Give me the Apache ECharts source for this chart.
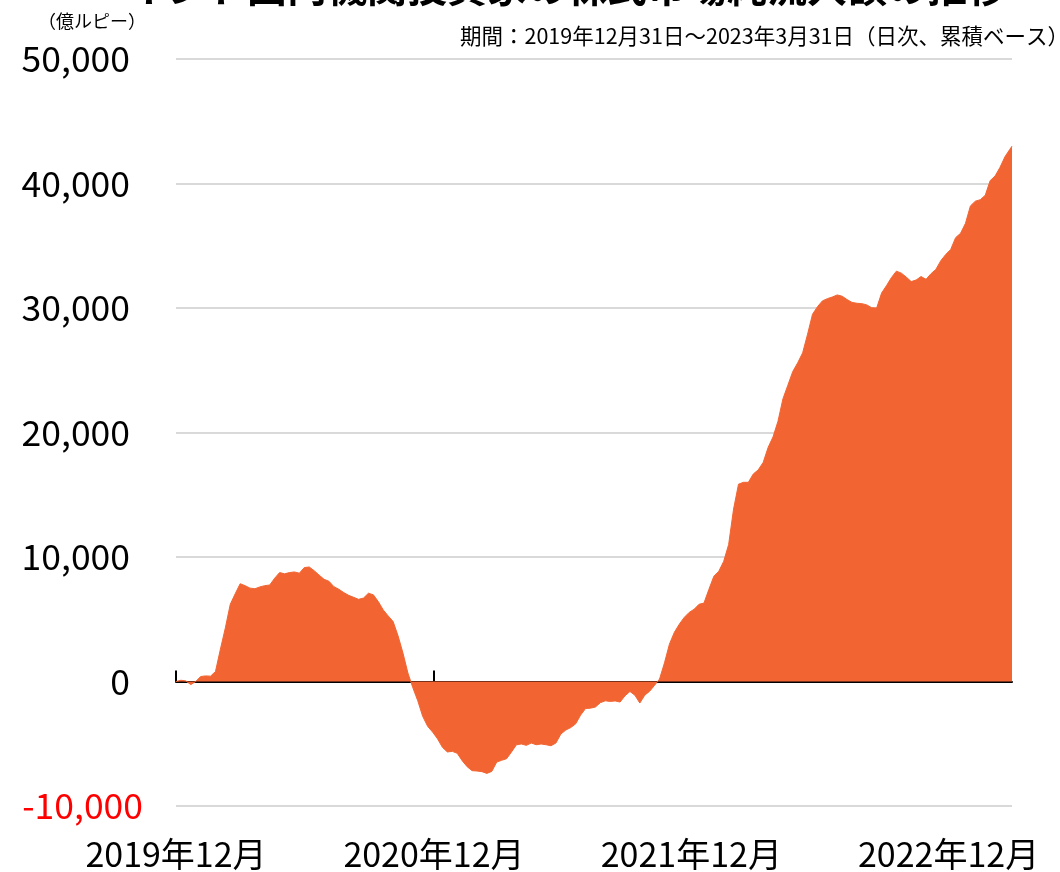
<!DOCTYPE html>
<html>
<head>
<meta charset="utf-8">
<script src="https://cdn.jsdelivr.net/npm/echarts@6/dist/echarts.min.js"></script>
<style>
html,body{margin:0;padding:0;background:#fff;}
#chart{width:1060px;height:872px;}
</style>
</head>
<body>
<div id="chart"></div>
<script>
// Weekly samples from 2019-12-31 (day 0) every 7 days, final point on 2023-03-31 (day 1186)
const startDate = '2019-12-31';
const endDay = 1186;
const stepDays = 7;
const flowValues = [
  0, 100, 50, -250, 0, 400, 450, 430, 800, 2600,
  4300, 6200, 7050, 7850, 7700, 7500, 7450, 7600, 7700, 7750,
  8300, 8750, 8650, 8750, 8800, 8700, 9150, 9200, 8900, 8550,
  8210, 8050, 7620, 7410, 7140, 6920, 6760, 6600, 6700, 7090,
  6960, 6420, 5750, 5270, 4820, 3670, 2280, 680, -500, -1550,
  -2800, -3600, -4060, -4600, -5290, -5660, -5610, -5770, -6360, -6840,
  -7160, -7190, -7240, -7380, -7220, -6470, -6330, -6200, -5660, -5080,
  -5020, -5130, -4940, -5080, -5020, -5080, -5160, -4940, -4220, -3900,
  -3700, -3400, -2700, -2170, -2140, -2050, -1700, -1550, -1600, -1560,
  -1650, -1150, -800, -1100, -1730, -1100, -780, -300, 200, 1500,
  3000, 3950, 4600, 5150, 5550, 5800, 6200, 6300, 7400, 8450,
  8850, 9650, 11000, 13850, 15850, 16000, 16000, 16670, 17000, 17600,
  18800, 19650, 20900, 22700, 23800, 24900, 25600, 26400, 27900, 29500,
  30100, 30570, 30750, 30880, 31050, 30950, 30680, 30450, 30380, 30350,
  30250, 30020, 30000, 31200, 31800, 32450, 32960, 32800, 32480, 32120,
  32250, 32530, 32300, 32750, 33100, 33800, 34300, 34700, 35650, 36000,
  36800, 38200, 38580, 38700, 39050, 40230, 40600, 41300, 42150, 42750,
  43000
];
const tickDays = [0, 366, 731, 1096];
const tickLabels = ['2019年12月', '2020年12月', '2021年12月', '2022年12月'];
const yTicks = [-10000, 0, 10000, 20000, 30000, 40000, 50000];

const titleText = 'インド国内機関投資家の株式市場純流入額の推移';
const unitText = '（億ルピー）';
const periodText = '期間：2019年12月31日～2023年3月31日（日次、累積ベース）';

const seriesData = flowValues.map((v, i) => [i === flowValues.length - 1 ? endDay : i * stepDays, v]);

const FONT = '"Noto Sans CJK JP", "Noto Sans", sans-serif';
const chart = echarts.init(document.getElementById('chart'), null, {renderer: 'canvas'});
chart.setOption({
  backgroundColor: '#fff',
  animation: false,
  title: {
    text: titleText,
    left: 122,
    top: -38,
    textStyle: {fontFamily: FONT, fontSize: 40, fontWeight: 'bold', color: '#000'}
  },
  graphic: [
    {type: 'text', left: 38, top: 12, style: {text: unitText, fontFamily: FONT, fontSize: 18, fill: '#000'}},
    {type: 'text', right: -9, top: 25, style: {text: periodText, fontFamily: FONT, fontSize: 21.5, fill: '#000'}}
  ],
  grid: {left: 176, right: 48, top: 59, bottom: 66, containLabel: false},
  xAxis: [
    {
      type: 'value', min: 0, max: endDay, position: 'bottom',
      axisLine: {show: true, onZero: true, lineStyle: {color: '#000', width: 2}},
      axisTick: {show: true, inside: true, length: 11, customValues: tickDays, lineStyle: {color: '#000', width: 2}},
      axisLabel: {show: false},
      splitLine: {show: false}
    },
    {
      type: 'value', min: 0, max: endDay, position: 'bottom',
      axisLine: {show: false, onZero: false},
      axisTick: {show: false},
      axisLabel: {
        show: true, customValues: tickDays, margin: 31,
        fontFamily: FONT, fontSize: 34, color: '#000',
        formatter: (v) => { const k = tickDays.indexOf(v); return k >= 0 ? tickLabels[k] : ''; }
      },
      splitLine: {show: false}
    }
  ],
  yAxis: {
    type: 'value', min: yTicks[0], max: yTicks[yTicks.length - 1], interval: 10000,
    axisLine: {show: false}, axisTick: {show: false},
    axisLabel: {
      margin: 33, fontFamily: FONT, fontSize: 35.5,
      formatter: (v) => {
        const s = Number(v).toLocaleString('en-US');
        return Number(v) < 0 ? '{neg|' + s + '}' : '{pos|' + s + '}';
      },
      rich: {
        pos: {fontFamily: FONT, fontSize: 35.5, color: '#000', padding: [0, 13, 0, 0]},
        neg: {fontFamily: FONT, fontSize: 35.5, color: '#ff0000'}
      }
    },
    splitLine: {show: true, lineStyle: {color: '#d9d9d9', width: 2}}
  },
  series: [{
    type: 'line',
    xAxisIndex: 0,
    data: seriesData,
    showSymbol: false,
    symbol: 'none',
    lineStyle: {color: '#F26532', width: 1},
    areaStyle: {color: '#F26532', opacity: 1},
    z: 1
  }]
});
</script>
</body>
</html>
